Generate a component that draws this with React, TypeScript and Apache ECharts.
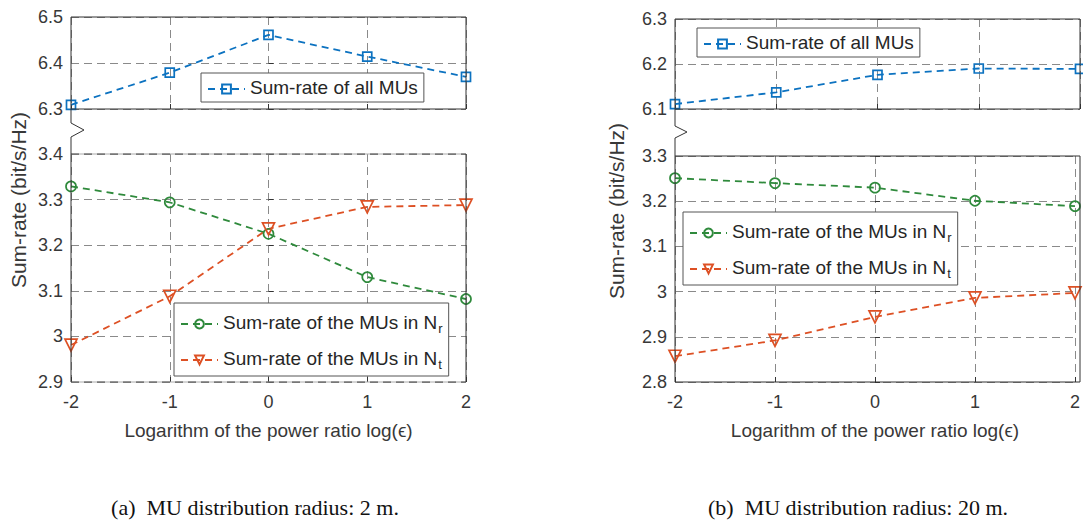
import React, { useEffect, useRef } from "react";
import * as echarts from "echarts";

const xValues = [-2, -1, 0, 1, 2];
const xTicks = { min: -2, max: 2, interval: 1 };

const leftAll = [6.309, 6.379, 6.461, 6.414, 6.37];
const leftNr = [3.329, 3.294, 3.225, 3.13, 3.082];
const leftNt = [2.981, 3.088, 3.236, 3.284, 3.288];

const rightAll = [6.111, 6.137, 6.176, 6.19, 6.189];
const rightNr = [3.251, 3.24, 3.23, 3.201, 3.189];
const rightNt = [2.857, 2.892, 2.944, 2.986, 2.997];

const yRanges = [
  { min: 6.3, max: 6.5, interval: 0.1 },
  { min: 2.9, max: 3.4, interval: 0.1 },
  { min: 6.1, max: 6.3, interval: 0.1 },
  { min: 2.8, max: 3.3, interval: 0.1 },
];

const NAME_ALL = "Sum-rate of all MUs";
const NAME_NR = "Sum-rate of the MUs in Nr";
const NAME_NT = "Sum-rate of the MUs in Nt";

const xName = "Logarithm of the power ratio log(\u03f5)";
const yName = "Sum-rate (bit/s/Hz)";
const captionA = "(a)\u00a0\u00a0MU distribution radius: 2 m.";
const captionB = "(b)\u00a0\u00a0MU distribution radius: 20 m.";

const BLUE = "#0c72c0";
const GREEN = "#2f8a3c";
const ORANGE = "#dd5024";
const AXIS = "#333333";
const TEXT = "#383838";
const GRIDC = "#8a8a8a";
const FONT = '"Liberation Sans", Arial, Helvetica, sans-serif';
const SERIF = '"Liberation Serif", "Times New Roman", serif';

const grids = [
  { left: 71, top: 17, width: 395, height: 92 },
  { left: 71, top: 154, width: 395, height: 228 },
  { left: 675, top: 19, width: 405, height: 90 },
  { left: 675, top: 156, width: 405, height: 226 },
];

function pairs(ys: number[]) {
  return xValues.map((x, i) => [x, ys[i]]);
}

export default function App() {
  const ref = useRef<HTMLDivElement>(null);
  useEffect(() => {
    if (!ref.current) return;
    const chart = echarts.init(ref.current, null, { renderer: "svg" });

    const xAxis = grids.map((_, i) => ({
      type: "value",
      gridIndex: i,
      ...xTicks,
      axisLine: { show: false },
      axisTick: { show: true, inside: true, length: 5, lineStyle: { color: AXIS } },
      axisLabel: {
        show: i % 2 === 1,
        fontSize: 18,
        color: TEXT,
        fontFamily: FONT,
        margin: 11,
      },
      splitLine: { show: true, lineStyle: { color: GRIDC, type: [8, 5], width: 1 } },
      name: i % 2 === 1 ? xName : "",
      nameLocation: "middle",
      nameGap: 39,
      nameTextStyle: { fontSize: 19, color: TEXT, fontFamily: FONT },
    }));

    const yAxis = grids.map((_, i) => ({
      type: "value",
      gridIndex: i,
      ...yRanges[i],
      axisLine: { show: false },
      axisTick: { show: true, inside: true, length: 5, lineStyle: { color: AXIS } },
      axisLabel: { fontSize: 18, color: TEXT, fontFamily: FONT, margin: 8 },
      splitLine: { show: true, lineStyle: { color: GRIDC, type: [8, 5], width: 1 } },
    }));

    const mk = (
      name: string,
      data: number[],
      idx: number,
      color: string,
      symbol: string,
      size: number,
      rotate = 0
    ) => ({
      type: "line",
      name,
      xAxisIndex: idx,
      yAxisIndex: idx,
      data: pairs(data),
      symbol,
      symbolSize: size,
      symbolRotate: rotate,
      showAllSymbol: true,
      clip: false,
      lineStyle: { color, width: 1.8, type: [7, 5] },
      itemStyle: { color: "rgba(255,255,255,0)", borderColor: color, borderWidth: 1.7 },
      emphasis: { disabled: true },
    });

    const series = [
      mk(NAME_ALL, leftAll, 0, BLUE, "rect", 9),
      mk(NAME_NR, leftNr, 1, GREEN, "circle", 10),
      mk(NAME_NT, leftNt, 1, ORANGE, "triangle", 12, 180),
      mk(NAME_ALL, rightAll, 2, BLUE, "rect", 9),
      mk(NAME_NR, rightNr, 3, GREEN, "circle", 10),
      mk(NAME_NT, rightNt, 3, ORANGE, "triangle", 12, 180),
    ];

    const legendBase = {
      orient: "vertical",
      backgroundColor: "#ffffff",
      borderColor: "#555555",
      borderWidth: 1,
      borderRadius: 0,
      itemWidth: 37,
      itemHeight: 11,
      itemGap: 9,
      selectedMode: false,
      textStyle: {
        fontSize: 19,
        color: "#262626",
        fontFamily: FONT,
        rich: {
          a: { fontSize: 19, color: "#262626", fontFamily: FONT, verticalAlign: "top", lineHeight: 22 },
          s: {
            fontSize: 13,
            color: "#262626",
            fontFamily: FONT,
            verticalAlign: "bottom",
            lineHeight: 13,
            padding: [14, 0, 0, 1],
          },
        },
      },
      formatter: (name: string) => {
        if (name === NAME_NR) return "{a|Sum-rate of the MUs in N}{s|r}";
        if (name === NAME_NT) return "{a|Sum-rate of the MUs in N}{s|t}";
        return "{a|" + name + "}";
      },
    };

    const legend = [
      { ...legendBase, data: [NAME_ALL], left: 201, top: 73, padding: [5, 6, 5, 6] },
      { ...legendBase, data: [NAME_NR, NAME_NT], left: 174, top: 303, padding: [5, 6, 5, 6] },
      { ...legendBase, data: [NAME_ALL], left: 697, top: 28, padding: [5, 6, 5, 6] },
      { ...legendBase, data: [NAME_NR, NAME_NT], left: 683, top: 212, padding: [5, 6, 5, 6] },
    ];

    const border = (g: any) => ({
      type: "rect",
      shape: { x: g.left, y: g.top, width: g.width, height: g.height },
      style: { fill: "none", stroke: AXIS, lineWidth: 1 },
      silent: true,
      z: 10,
    });

    const g1 = grids[1];
    const hline = (y: number, x1: number, x2: number, stroke: string, dash: any) => ({
      type: "line",
      shape: { x1, y1: y, x2, y2: y },
      style: { stroke, lineWidth: 1, lineDash: dash },
      silent: true,
      z: 10,
    });
    const vline = (x: number, y1: number, y2: number) => ({
      type: "line",
      shape: { x1: x, y1, x2: x, y2 },
      style: { stroke: AXIS, lineWidth: 1 },
      silent: true,
      z: 10,
    });

    const graphic = [
      border(grids[0]),
      border(grids[2]),
      border(grids[3]),
      hline(g1.top, g1.left, g1.left + g1.width, "#aaaaaa", null),
      hline(g1.top, g1.left, g1.left + g1.width, "#555555", [8, 5]),
      hline(g1.top + g1.height, g1.left, g1.left + g1.width, "#aaaaaa", null),
      hline(g1.top + g1.height, g1.left, g1.left + g1.width, "#555555", [8, 5]),
      vline(g1.left, g1.top, g1.top + g1.height),
      vline(g1.left + g1.width, g1.top, g1.top + g1.height),
      {
        type: "polyline",
        shape: {
          points: [
            [71, 109],
            [71, 123],
            [84, 130],
            [71, 137],
            [71, 154],
          ],
        },
        style: { stroke: AXIS, lineWidth: 1, fill: "none" },
        silent: true,
        z: 10,
      },
      {
        type: "polyline",
        shape: {
          points: [
            [675, 109],
            [675, 126],
            [687, 132],
            [675, 138],
            [675, 156],
          ],
        },
        style: { stroke: AXIS, lineWidth: 1, fill: "none" },
        silent: true,
        z: 10,
      },
      {
        type: "text",
        x: 18,
        y: 200,
        rotation: Math.PI / 2,
        style: {
          text: yName,
          fontSize: 21,
          fontFamily: FONT,
          fill: TEXT,
          align: "center",
          verticalAlign: "middle",
        },
      },
      {
        type: "text",
        x: 616,
        y: 211,
        rotation: Math.PI / 2,
        style: {
          text: yName,
          fontSize: 21,
          fontFamily: FONT,
          fill: TEXT,
          align: "center",
          verticalAlign: "middle",
        },
      },
      {
        type: "text",
        x: 255,
        y: 507,
        style: {
          text: captionA,
          fontSize: 22,
          fontFamily: SERIF,
          fill: "#111111",
          align: "center",
          verticalAlign: "middle",
        },
      },
      {
        type: "text",
        x: 858,
        y: 507,
        style: {
          text: captionB,
          fontSize: 22,
          fontFamily: SERIF,
          fill: "#111111",
          align: "center",
          verticalAlign: "middle",
        },
      },
    ];

    chart.setOption({
      animation: false,
      backgroundColor: "#ffffff",
      grid: grids.map((g) => ({ ...g, containLabel: false })),
      xAxis,
      yAxis,
      series,
      legend,
      graphic,
    } as any);

    return () => chart.dispose();
  }, []);

  return (
    <div
      ref={ref}
      style={{ position: "fixed", left: 0, top: 0, width: 1083, height: 520, background: "#fff" }}
    />
  );
}
